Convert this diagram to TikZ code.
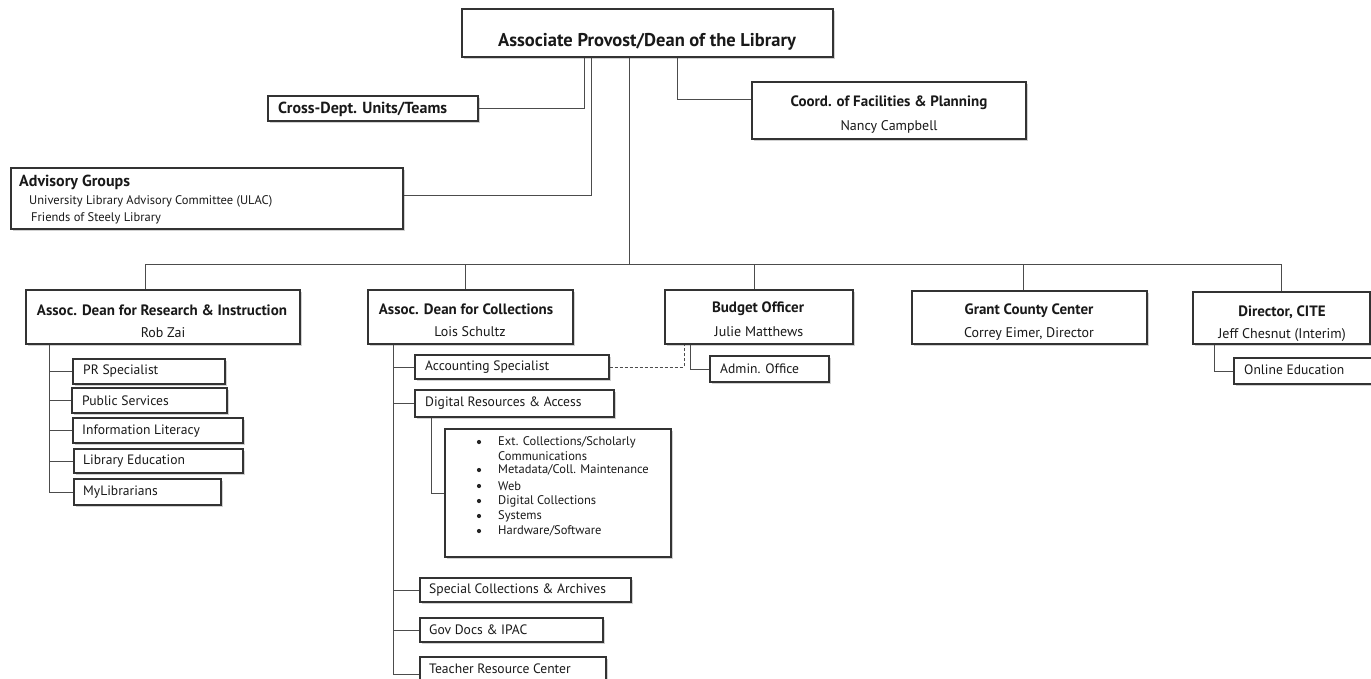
\documentclass[tikz,border=0pt]{standalone}
\usepackage{fontspec}
\setmainfont{PT Sans}
\usetikzlibrary{fit,shadows}
\tikzset{
  box/.style={draw=black!80, line width=1.1pt, fill=white, inner sep=0pt,
    drop shadow={shadow xshift=1.8pt, shadow yshift=-1.8pt, opacity=0.3, fill=black!60}},
  conn/.style={draw=black!70, line width=1pt},
  lbl/.style={inner sep=0pt, text=black!90},
  ttop/.style={lbl, font=\fontsize{18.5}{22}\selectfont\bfseries},
  tbig/.style={lbl, font=\fontsize{16}{19}\selectfont\bfseries},
  thead/.style={lbl, font=\fontsize{15}{18}\selectfont\bfseries},
  tname/.style={lbl, font=\fontsize{14}{17}\selectfont},
  tsub/.style={lbl, font=\fontsize{13.6}{16}\selectfont, anchor=west},
  tsmall/.style={lbl, font=\fontsize{12.5}{15}\selectfont, anchor=west},
  bdot/.style={circle, fill=black!85, inner sep=0pt, minimum size=4.2pt},
}
\begin{document}
\begin{tikzpicture}[x=1pt,y=-1pt]
\useasboundingbox (0,0) rectangle (1371,678);

% ---------- top level ----------
\node[box, fit={(462,9) (833,57)}] (top) {};
\node[ttop] (topt) at (647,42) {Associate Provost/Dean of the Library};

\node[box, fit={(268,96) (478,121)}] (cross) {};
\node[tbig, anchor=west] (crosst) at (278,109) {Cross-Dept. Units/Teams};

\node[box, fit={(11,168) (403,229)}] (adv) {};
\node[tbig, anchor=west] (advt) at (19,182) {Advisory Groups};
\node[tsmall] (adv1) at (29,201) {University Library Advisory Committee (ULAC)};
\node[tsmall] (adv2) at (31,218) {Friends of Steely Library};

\node[box, fit={(752,82) (1026,139)}] (coord) {};
\node[thead] (coordt) at (889,103) {Coord. of Facilities \& Planning};
\node[tname] (coordn) at (889,127) {Nancy Campbell};

\coordinate (v1) at (584,0);
\coordinate (v2) at (591,0);
\coordinate (v3) at (629,0);
\coordinate (v4) at (677,0);
\draw[conn] (top.south -| v1) |- (cross.east);
\draw[conn] (top.south -| v2) |- ([yshift=3pt]adv.east);
\draw[conn] (top.south -| v4) |- ([yshift=11pt]coord.west);

% ---------- second level ----------
\node[box, fit={(26,290) (300,344)}] (ri) {};
\node[thead] (rit) at (162,310) {Assoc. Dean for Research \& Instruction};
\node[tname] (rin) at (163,333) {Rob Zai};

\node[box, fit={(368,290) (573,344)}] (coll) {};
\node[thead] (collt) at (466,309) {Assoc. Dean for Collections};
\node[tname] (colln) at (470,332) {Lois Schultz};

\node[box, fit={(665,290) (853,344)}] (bud) {};
\node[thead] (budt) at (758,309) {Budget Officer};
\node[tname] (budn) at (759,332) {Julie Matthews};

\node[box, fit={(912,291) (1147,344)}] (grant) {};
\node[thead] (grantt) at (1029,311) {Grant County Center};
\node[tname] (grantn) at (1029,334) {Correy Eimer, Director};

\node[box, fit={(1193,292) (1370,344)}] (cite) {};
\node[thead] (citet) at (1282,312) {Director, CITE};
\node[tname] (citen) at (1282,335) {Jeff Chesnut (Interim)};

% bus
\coordinate (busL) at (145,264);
\coordinate (busR) at (1281,264);
\coordinate (d2) at (465,264);
\coordinate (d3) at (754,264);
\coordinate (d4) at (1023,264);
\draw[conn] (top.south -| v3) -- (v3 |- busL);
\draw[conn] (busL) -- (busR);
\draw[conn] (busL) -- (busL |- ri.north);
\draw[conn] (d2) -- (d2 |- coll.north);
\draw[conn] (d3) -- (d3 |- bud.north);
\draw[conn] (d4) -- (d4 |- grant.north);
\draw[conn] (busR) -- (busR |- cite.north);

% ---------- Research & Instruction children ----------
\node[box, fit={(73,359) (225,384)}] (r1) {};
\node[tsub] at (83,371) {PR Specialist};
\node[box, fit={(72,388) (227,413)}] (r2) {};
\node[tsub] at (82,401) {Public Services};
\node[box, fit={(73,418) (243,443)}] (r3) {};
\node[tsub] at (82,431) {Information Literacy};
\node[box, fit={(74,449) (243,473)}] (r4) {};
\node[tsub] at (83,461) {Library Education};
\node[box, fit={(74,479) (221,505)}] (r5) {};
\node[tsub] at (83,492) {MyLibrarians};

\coordinate (rv) at (49,0);
\draw[conn] (ri.south -| rv) |- (r5.west);
\foreach \c in {r1,r2,r3,r4} \draw[conn] (rv |- \c.west) -- (\c.west);

% ---------- Collections children ----------
\node[box, fit={(415,355) (609,379)}] (k1) {};
\node[tsub] at (425,367) {Accounting Specialist};
\node[box, fit={(415,390) (614,417)}] (k2) {};
\node[tsub] at (425,403) {Digital Resources \& Access};
\node[box, fit={(445,429) (671,557)}] (k3) {};
\node[box, fit={(420,578) (631,602)}] (k4) {};
\node[tsub] at (429,590) {Special Collections \& Archives};
\node[box, fit={(420,618) (603,642)}] (k5) {};
\node[tsub] at (429,630) {Gov Docs \& IPAC};
\node[box, fit={(420,657) (606,692)}] (k6) {};
\node[tsub] at (429,669) {Teacher Resource Center};

\foreach \yy/\tt in {442/{Ext. Collections/Scholarly}, 470/{Metadata/Coll. Maintenance}, 486/{Web}, 501/{Digital Collections}, 516/{Systems}, 531/{Hardware/Software}}{
  \node[bdot] at (479,\yy) {};
  \node[tsmall] at (498,\yy) {\tt};
}
\node[tsmall] at (498,456) {Communications};

\coordinate (kv) at (393,0);
\draw[conn] (coll.south -| kv) |- (k6.west);
\foreach \c in {k1,k2,k4,k5} \draw[conn] (kv |- \c.west) -- (\c.west);
\coordinate (dv) at (431,0);
\draw[conn] (k2.south -| dv) |- (k3.west);

% ---------- Budget children ----------
\node[box, fit={(710,356) (829,382)}] (adm) {};
\node[tsub] at (720,369) {Admin. Office};
\coordinate (bv) at (690,0);
\draw[conn] (bud.south -| bv) |- (adm.west);
\coordinate (dash) at (684,0);
\draw[conn, dashed, dash pattern=on 3pt off 2pt] (k1.east) -| (bud.south -| dash);

% ---------- CITE children ----------
\node[box, fit={(1234,358) (1374,384)}] (onl) {};
\node[tsub] at (1244,370) {Online Education};
\coordinate (cv) at (1214,0);
\draw[conn] (cite.south -| cv) |- (onl.west);
\end{tikzpicture}
\end{document}
